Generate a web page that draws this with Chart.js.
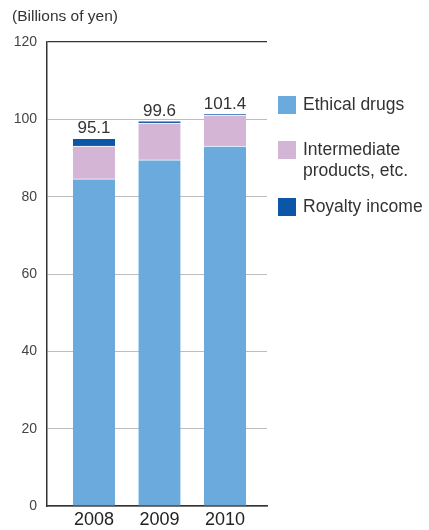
<!DOCTYPE html>
<html>
<head>
<meta charset="utf-8">
<script src="https://cdn.jsdelivr.net/npm/chart.js@4/dist/chart.umd.min.js"></script>
<style>
  body { margin: 0; background: #fff; font-family: "Liberation Sans", Arial, sans-serif; }
  #wrap { position: relative; width: 429px; height: 530px; }
  #unit { position: absolute; left: 12px; top: 7px; font-size: 15.5px; color: #333; }
  #legend { position: absolute; left: 278px; top: 0; }
  .item { position: absolute; left: 0; width: 150px; font-size: 17.5px; line-height: 21px; color: #333; }
  .item span.box { position: absolute; left: 0; top: 2px; width: 18px; height: 18px; }
  .item span.txt { position: absolute; left: 25px; top: 0; white-space: nowrap; }
</style>
</head>
<body>
<div id="wrap">
  <canvas id="salesChart" width="429" height="530"></canvas>
  <div id="unit">(Billions of yen)</div>
  <div id="legend"></div>
</div>
<script>
// Données
const years = ['2008', '2009', '2010'];
const ethicalDrugs = [84.6, 89.5, 93.1];
const intermediate = [8.5, 9.5, 8.0];
const royalty = [2.0, 0.6, 0.3];
const totals = ['95.1', '99.6', '101.4'];
const yTicks = [0, 20, 40, 60, 80, 100, 120];

const seriesNames = ['Ethical drugs', 'Intermediate\nproducts, etc.', 'Royalty income'];
const seriesColors = ['#6aaadc', '#d4b5d6', '#0b56a8'];

function points(values) {
    return values.map((v, i) => ({ x: i, y: v }));
}

// Étiquettes des totaux au-dessus des barres
const totalsPlugin = {
    id: 'totals',
    afterDatasetsDraw(chart) {
        const ctx = chart.ctx;
        const meta = chart.getDatasetMeta(chart.data.datasets.length - 1);
        ctx.save();
        ctx.font = '17px "Liberation Sans", Arial, sans-serif';
        ctx.fillStyle = '#333';
        ctx.textAlign = 'center';
        ctx.textBaseline = 'bottom';
        meta.data.forEach((bar, i) => {
            ctx.fillText(totals[i], bar.x, bar.y - 1);
        });
        ctx.restore();
    }
};

const ctx = document.getElementById('salesChart').getContext('2d');
const chart = new Chart(ctx, {
    type: 'bar',
    data: {
        datasets: [ethicalDrugs, intermediate, royalty].map((vals, i) => ({
            label: seriesNames[i],
            data: points(vals),
            backgroundColor: seriesColors[i],
            borderColor: '#ffffff',
            borderWidth: { top: 1, right: 0, bottom: 0, left: 0 },
            borderSkipped: false,
            barThickness: 42
        }))
    },
    options: {
        responsive: false,
        animation: false,
        layout: { padding: { top: 42, right: 162, left: 0, bottom: 0 } },
        plugins: {
            legend: { display: false },
            tooltip: { enabled: false }
        },
        scales: {
            x: {
                type: 'linear',
                stacked: true,
                offset: false,
                min: -0.717,
                max: 2.641,
                afterBuildTicks(scale) {
                    scale.ticks = years.map((y, i) => ({ value: i }));
                },
                afterFit(scale) { scale.height = 24; },
                grid: { display: false, drawTicks: false, offset: false },
                border: { display: true, color: '#333', width: 1.5 },
                ticks: {
                    padding: 3,
                    color: '#222',
                    font: { size: 18, family: '"Liberation Sans", Arial, sans-serif' },
                    callback: (v) => years[v]
                }
            },
            y: {
                stacked: true,
                min: 0,
                max: 120,
                afterBuildTicks(scale) {
                    scale.ticks = yTicks.map(v => ({ value: v }));
                },
                afterFit(scale) { scale.width = 47; },
                grid: {
                    drawTicks: false,
                    color: (c) => c.tick && c.tick.value === 120 ? '#333' : '#bdbdbd',
                    lineWidth: (c) => c.tick && c.tick.value === 120 ? 1.2 : 1
                },
                border: { display: true, color: '#333', width: 1.5 },
                ticks: {
                    padding: 10,
                    color: '#444',
                    font: { size: 14, family: '"Liberation Sans", Arial, sans-serif' }
                }
            }
        }
    },
    plugins: [totalsPlugin]
});

// Légende HTML à droite
const legendTops = [94, 139, 196];
const legend = document.getElementById('legend');
chart.data.datasets.forEach((ds, i) => {
    const item = document.createElement('div');
    item.className = 'item';
    item.style.top = legendTops[i] + 'px';
    const box = document.createElement('span');
    box.className = 'box';
    box.style.background = ds.backgroundColor;
    const txt = document.createElement('span');
    txt.className = 'txt';
    txt.innerHTML = ds.label.replace('\n', '<br>');
    item.appendChild(box);
    item.appendChild(txt);
    legend.appendChild(item);
});
</script>
</body>
</html>
